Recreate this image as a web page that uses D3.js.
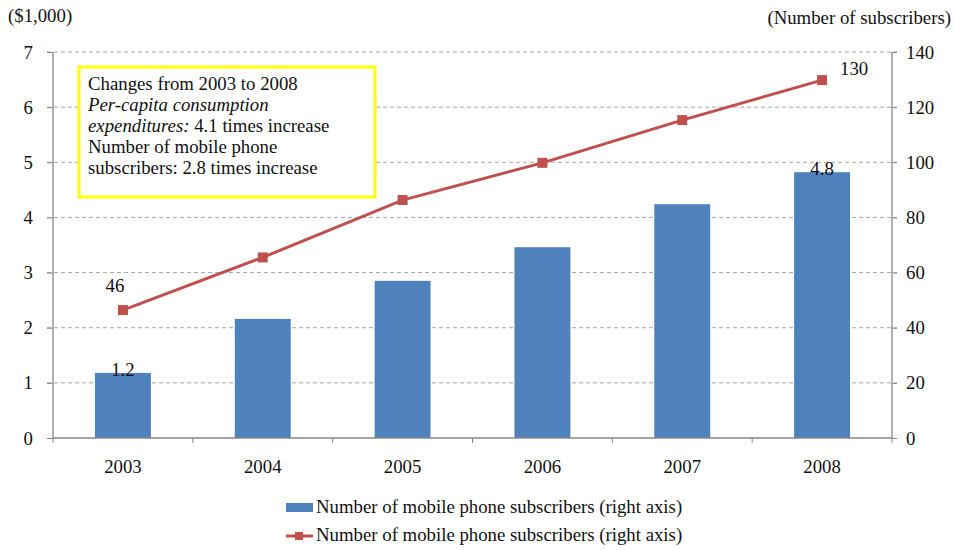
<!DOCTYPE html>
<html>
<head>
<meta charset="utf-8">
<script src="https://cdn.jsdelivr.net/npm/d3@7"></script>
<style>
  html, body { margin: 0; padding: 0; background: #fff; }
  #chart text { font-family: "Liberation Serif", "DejaVu Serif", "Times New Roman", serif !important; fill: #111; }
</style>
</head>
<body>
<svg id="chart" width="955" height="550"></svg>
<script>
// Years on the category axis
const years = ["2003", "2004", "2005", "2006", "2007", "2008"];
// Per-capita consumption expenditures ($1,000), left axis — bars
const barValues = [1.18, 2.16, 2.85, 3.46, 4.24, 4.82];
// Mobile phone subscribers, right axis — line
const lineValues = [46.4, 65.5, 86.3, 99.8, 115.3, 129.8];
// Tick values
const leftTicks = [0, 1, 2, 3, 4, 5, 6, 7];
const rightTicks = [0, 20, 40, 60, 80, 100, 120, 140];
// Value labels shown on the first and last points
const barLabels = ["1.2", "", "", "", "", "4.8"];
const lineLabels = ["46", "", "", "", "", "130"];
const legendItems = [
  "Number of mobile phone subscribers (right axis)",
  "Number of mobile phone subscribers (right axis)"
];
const noteLines = [
  [{t: "Changes from 2003 to 2008", i: false}],
  [{t: "Per-capita consumption", i: true}],
  [{t: "expenditures:", i: true}, {t: " 4.1 times increase", i: false}],
  [{t: "Number of mobile phone", i: false}],
  [{t: "subscribers: 2.8 times increase", i: false}]
];

const FONT = "'Liberation Serif', 'DejaVu Serif', serif";
const FS = 18.8;
const svg = d3.select("#chart").attr("font-family", FONT);
const plotL = 53, plotR = 892, plotT = 52, plotB = 438;
const barColor = "#4F81BD", lineColor = "#C0504D", axisColor = "#868686";

const x = d3.scaleBand().domain(years).range([plotL, plotR]).paddingInner(0).paddingOuter(0);
const yL = d3.scaleLinear().domain([0, 7]).range([plotB, plotT]);
const yR = d3.scaleLinear().domain([0, 140]).range([plotB, plotT]);

// dashed gridlines
svg.append("g").selectAll("line")
  .data(leftTicks.filter(d => d > 0))
  .join("line")
  .attr("x1", plotL - 6).attr("x2", plotR + 5)
  .attr("y1", d => yL(d)).attr("y2", d => yL(d))
  .attr("stroke", "#A6A6A6").attr("stroke-width", 1)
  .attr("stroke-dasharray", "4,3");

// bars
const bw = x.bandwidth() * 0.4;
svg.append("g").selectAll("rect")
  .data(barValues)
  .join("rect")
  .attr("x", (d, i) => x(years[i]) + x.bandwidth() / 2 - bw / 2)
  .attr("y", d => yL(d))
  .attr("width", bw)
  .attr("height", d => plotB - yL(d))
  .attr("fill", barColor);

// left axis
const axL = svg.append("g").attr("transform", `translate(${plotL},0)`)
  .call(d3.axisLeft(yL).tickValues(leftTicks).tickFormat(d3.format("d")).tickSize(6).tickPadding(14));
// right axis
const axR = svg.append("g").attr("transform", `translate(${plotR},0)`)
  .call(d3.axisRight(yR).tickValues(rightTicks).tickFormat(d3.format("d")).tickSize(5).tickPadding(9));
// bottom axis; tick marks sit on the band boundaries
const axB = svg.append("g").attr("transform", `translate(0,${plotB})`)
  .call(d3.axisBottom(x).tickSize(0).tickPadding(22));
svg.append("g").selectAll("line")
  .data(d3.range(years.length + 1))
  .join("line")
  .attr("x1", i => plotL + i * x.bandwidth())
  .attr("x2", i => plotL + i * x.bandwidth())
  .attr("y1", plotB).attr("y2", plotB + 5)
  .attr("stroke", axisColor);

[axL, axR, axB].forEach(a => {
  a.attr("font-family", FONT);
  a.select(".domain").attr("stroke", axisColor).attr("stroke-width", 1.3);
  a.selectAll(".tick line").attr("stroke", axisColor);
  a.selectAll(".tick text").attr("font-size", FS).attr("fill", "#111");
});
axL.select(".domain").attr("d", `M0,${plotT}V${plotB}`);
axR.select(".domain").attr("d", `M0,${plotT}V${plotB}`);
axB.select(".domain").attr("d", `M${plotL},0H${plotR}`);

// line series
const line = d3.line()
  .x((d, i) => x(years[i]) + x.bandwidth() / 2)
  .y(d => yR(d));
svg.append("path").datum(lineValues)
  .attr("d", line).attr("fill", "none")
  .attr("stroke", lineColor).attr("stroke-width", 3);
svg.append("g").selectAll("rect")
  .data(lineValues)
  .join("rect")
  .attr("x", (d, i) => x(years[i]) + x.bandwidth() / 2 - 5)
  .attr("y", d => yR(d) - 5)
  .attr("width", 10).attr("height", 10)
  .attr("fill", lineColor);

// value labels
svg.append("g").selectAll("text")
  .data(barValues)
  .join("text")
  .attr("x", (d, i) => x(years[i]) + x.bandwidth() / 2)
  .attr("y", d => yL(d) + 3)
  .attr("text-anchor", "middle")
  .attr("font-size", FS)
  .text((d, i) => barLabels[i]);
svg.append("g").selectAll("text")
  .data(lineValues)
  .join("text")
  .attr("x", (d, i) => x(years[i]) + x.bandwidth() / 2 + (i === 0 ? -8 : 32))
  .attr("y", (d, i) => yR(d) + (i === 0 ? -18 : -5))
  .attr("text-anchor", "middle")
  .attr("font-size", FS)
  .text((d, i) => lineLabels[i]);

// unit captions
svg.append("text").attr("x", 8).attr("y", 22).attr("font-size", FS).text("($1,000)");
svg.append("text").attr("x", 951).attr("y", 24).attr("text-anchor", "end")
  .attr("font-size", FS).text("(Number of subscribers)");

// note box
svg.append("rect").attr("x", 79).attr("y", 67).attr("width", 296).attr("height", 130)
  .attr("fill", "#fff").attr("stroke", "#FFFF00").attr("stroke-width", 3);
const note = svg.append("text").attr("font-size", FS);
noteLines.forEach((parts, li) => {
  const t = note.append("tspan").attr("x", 88).attr("y", 89.5 + li * 21.2);
  parts.forEach((p, pi) => {
    const s = pi === 0 ? t : note.append("tspan");
    s.text(p.t).attr("font-style", p.i ? "italic" : "normal");
  });
});

// legend
const lg = svg.append("g");
lg.append("rect").attr("x", 286).attr("y", 503).attr("width", 27).attr("height", 9).attr("fill", barColor);
lg.append("line").attr("x1", 286).attr("x2", 313).attr("y1", 536).attr("y2", 536)
  .attr("stroke", lineColor).attr("stroke-width", 3);
lg.append("rect").attr("x", 295).attr("y", 532).attr("width", 8).attr("height", 8).attr("fill", lineColor);
legendItems.forEach((t, i) => {
  lg.append("text").attr("x", 316).attr("y", 513 + i * 28).attr("font-size", FS).text(t);
});
</script>
</body>
</html>
